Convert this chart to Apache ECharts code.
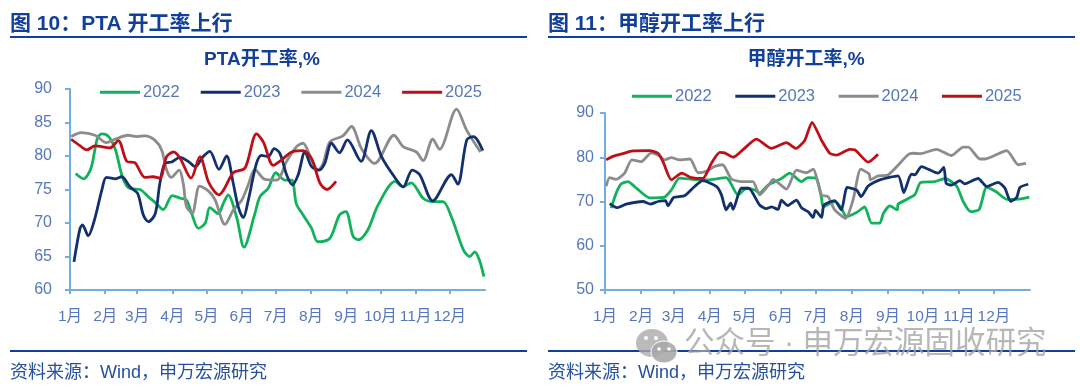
<!DOCTYPE html>
<html><head><meta charset="utf-8">
<style>html,body{margin:0;padding:0;background:#fff}#c{width:1080px;height:389px}</style>
<script src="https://cdn.jsdelivr.net/npm/echarts@6/dist/echarts.min.js"></script>
</head><body><div id="c"></div>
<script>
const monthStarts=[0,31,59,90,120,151,181,212,243,273,304,334];
const monthLabels=['1月','2月','3月','4月','5月','6月','7月','8月','9月','10月','11月','12月'];
const seriesNames=['2022','2023','2024','2025'];
const pta2022=[[5,77.4],[12,76.6],[18.5,78.2],[24,82.6],[28,83.3],[34,82.9],[40,80.9],[45.5,77.2],[50,75.5],[54,75.1],[61.5,75],[69,73.9],[76,72.9],[82,72],[90,74.1],[97,73.7],[102.5,73.4],[107,71.4],[113,69.2],[119,70],[123,72.3],[130.4,71.4],[134.8,72.9],[139,74.2],[146.5,70.9],[153,66.4],[162.6,71.4],[167,73.9],[174.4,75.2],[181,77.5],[189,76.4],[195,76.4],[199,72.9],[205,71.2],[212.5,69.2],[218,67.2],[228.5,67.7],[237,71.2],[242.6,71.7],[249,68],[253.5,67.5],[262,69],[271,72.7],[286,76.2],[293,75.4],[300,76],[310.6,73.7],[319,73.2],[328,73.2],[335.5,70.9],[346,66],[351.6,65],[356,65.7],[360,64.5],[364,62]];
const pta2023=[[3.5,64.2],[8.8,69.2],[11,69.7],[16,68.1],[21.4,70.4],[28,74.9],[32,76.8],[39.5,76.6],[45.4,76.9],[52.7,75.4],[59.5,74.4],[64.5,71.2],[69,70.2],[75,71.4],[79,75.9],[83.5,78.9],[89.4,79.1],[96.7,79.8],[104,79.2],[110,78.4],[117,79.9],[123,80.7],[131,78],[137.7,80],[143.6,75.9],[148,72.4],[152.4,70.8],[156.8,73.4],[164,78.9],[168.5,80.1],[174.4,79.9],[179.6,81.1],[184.6,80.4],[190.5,77.2],[195.5,75.7],[200.7,77.2],[206.6,80.6],[212.5,78.4],[219,77.9],[224,78.9],[230,81.9],[237,80.5],[244,82.4],[256,79.2],[265,83.8],[274,79.9],[284,77.2],[293,75.4],[301,77.9],[307.6,77.2],[319,73.3],[335.5,77.2],[341,75.8],[349,82.4],[355,82.9],[363,80.8]];
const pta2024=[[1,82.9],[10,83.5],[22,83.1],[32,82],[39.5,82.5],[51,83.1],[58.6,82.9],[66,83],[75,82.3],[80.6,80.9],[85,77.9],[89,76.8],[96,77.9],[99.6,75.9],[102.5,72.4],[107.5,71.5],[114,75.5],[121.6,74.8],[127.5,73.5],[136.3,69.8],[143.6,71.9],[151,73.4],[156.8,75.7],[162.6,78],[171.4,76.5],[181.7,76.4],[190.5,79.2],[199.3,81.4],[205,81.9],[212.5,79.4],[218.3,77.9],[222.7,78.9],[228.6,82.1],[240,83],[247.6,84.4],[256.4,81.1],[268,78.9],[285,83.1],[293,81.4],[304.7,80.6],[310.6,79.3],[319,82.5],[325,81],[340,87],[348.7,83.9],[361,80.6]];
const pta2025=[[1,82.5],[9,81.5],[14.6,80.9],[22,81.5],[35,81.2],[42.5,82.3],[50,79.2],[57,79],[66,76.8],[73,76.9],[79,76.7],[85,79.9],[91,80.6],[96.7,79.7],[106.4,76.7],[114.3,79.9],[121.6,76.2],[127.5,74.6],[131,74.2],[136,75.2],[143.6,77.5],[153.9,78.2],[164,83.3],[170,82.1],[178.8,78.6],[186,79.4],[195,80.6],[205,80.8],[212.5,79.6],[220,75.9],[226,75],[234,76.2]];
const meth2022=[[5.3,68.5],[9.6,71.9],[14,74],[19.7,74.5],[27,73],[38.3,70.8],[51.2,71],[57,72.6],[64,75.3],[81,74.9],[90,74.9],[104,75.4],[107,74.6],[114.2,71.5],[121.4,73],[128.5,72.6],[132.8,71.9],[140,73.7],[151.5,75.2],[158.6,76.4],[168.7,74.5],[174.4,75.4],[181.6,75.2],[186,70.7],[187.3,68.8],[197.3,70],[203,68.5],[207.3,66.6],[216,67.5],[223,68.8],[229,65.1],[236,65.1],[239,67.3],[244.6,69],[251,68.1],[251.7,69.4],[266,71.5],[271,74.3],[283,74.5],[292,75.2],[302,73.5],[307.6,70],[314,67.7],[321.4,68.2],[327.7,73.2],[336,72.2],[345,70.5],[353.5,70.5],[364.4,71]];
const meth2023=[[4,69.5],[10.2,68.6],[18.2,69.4],[32.6,70],[38.9,69.4],[45.5,70],[52,70.2],[54,69],[59,70.9],[68.4,71.3],[77,73.4],[84,74.7],[95.6,73.4],[100,71.5],[104,68.1],[108,69.6],[110,68.2],[117,73],[123.4,73],[132.8,69.2],[138.6,68.4],[143,68.8],[148.6,68.2],[151.5,70.3],[157,69.1],[164.4,70.3],[168.7,68.6],[174.4,67.7],[178.7,66.4],[180.7,68],[186,66.4],[188,69.2],[197.3,70.2],[203,68.1],[208,73.2],[216,72.6],[220,71.1],[226,73.5],[236,74.9],[251.7,75.8],[256.6,72],[263,76.2],[266,76],[271.8,77.9],[286,76.4],[291,77.7],[293,74.1],[297.6,73.7],[304.8,74.7],[309,74],[320.5,75.2],[327.7,73.4],[337.7,74.3],[343.5,73],[348.4,70],[353.5,70.9],[356.4,73.2],[363.5,73.9]];
const meth2024=[[1,73.5],[4,75.4],[9.6,75],[16.8,76.4],[23,79.4],[31,79],[39.7,81],[47,80.3],[51,79.4],[57,79.9],[64,79.4],[73,79.6],[80,76.5],[87,76.8],[94,77.9],[101,78.3],[108.5,75.1],[117,74.5],[127,74.5],[132.8,71.5],[141.4,74],[144.3,75],[155.8,72.8],[164.4,77.1],[173,76.5],[178.7,77.3],[186,71.5],[191.6,71.1],[197.3,68.1],[206.7,66.2],[213,70.3],[219.6,77.3],[226.8,76.2],[228,74.9],[234.5,75.8],[243,76],[260,80.5],[264.6,80.9],[270.4,80.8],[284.7,81.8],[297.6,80.4],[307.6,82.3],[312,82.3],[322,79.6],[326.3,79.6],[345,81.5],[355,78.3],[361.5,78.6]];
const meth2025=[[1,79.4],[6.8,80.2],[15.4,80.8],[22.5,81.4],[38.3,81.5],[45.5,80.9],[49.8,79],[57,74.9],[66,76.4],[74,75.4],[84,75.2],[91.3,78.6],[98.5,81.1],[102.75,81],[110,80],[118.5,81.7],[130,84.1],[142.9,82],[155.8,83.3],[163.8,82],[171.5,83.8],[177.8,87.9],[186,83.8],[193,80.9],[198.8,80.5],[210.2,81.8],[214.5,81.7],[226,78.9],[234.5,80.7]];
const lineColors=['#12b15c','#12306f','#8c8c8c','#c00e17'];
const FONT="'Liberation Sans','Noto Sans CJK SC',sans-serif";
const LABEL='#5676bd', AXIS='#72aee2', NAVY='#123f97';
function yAxis(idx,min,max,interval,margin){return{gridIndex:idx,type:'value',min,max,interval,
  splitLine:{show:false},axisLine:{show:true,lineStyle:{color:AXIS,width:2}},
  axisTick:{show:true,length:5,lineStyle:{color:AXIS,width:2}},
  axisLabel:{color:LABEL,fontSize:16,fontFamily:FONT,margin}};}
function xAxis(idx){return{gridIndex:idx,type:'value',min:0,max:365,
  splitLine:{show:false},axisLine:{show:true,lineStyle:{color:AXIS,width:2}},
  axisTick:{show:true,length:4,customValues:monthStarts,lineStyle:{color:AXIS,width:2}},
  axisLabel:{color:LABEL,fontSize:15.5,fontFamily:FONT,margin:19,customValues:monthStarts,hideOverlap:false,
    formatter:v=>monthLabels[monthStarts.indexOf(v)]||''}};}
function lines(arrs,idx,smooth){return arrs.map((d,i)=>({name:seriesNames[i],type:'line',xAxisIndex:idx,yAxisIndex:idx,data:d,
  symbol:'none',smooth,lineStyle:{color:lineColors[i],width:2.8},itemStyle:{color:lineColors[i]},z:[2,3,2,4][i]}));}
function legend(left,top,gap){return{left,top,itemWidth:40,itemHeight:3,itemGap:gap,icon:'rect',
  data:seriesNames,textStyle:{color:LABEL,fontSize:16.5,fontFamily:FONT,padding:[0,0,0,-2]},selectedMode:false};}
function txt(x,y,text,size,weight,color,align){return{type:'text',x,y,silent:true,z:10,style:{text,fontSize:size,fontWeight:weight,fontFamily:FONT,fill:color,align:align||'left',verticalAlign:'middle'}};}
function rule(x1,x2,y){return{type:'line',silent:true,z:9,shape:{x1,y1:y,x2,y2:y},style:{stroke:NAVY,lineWidth:2}};}
const chart=echarts.init(document.getElementById('c'),null,{renderer:'canvas'});
chart.setOption({animation:false,backgroundColor:'#fff',
 grid:[{left:70,width:415,top:89,height:201},{left:605,width:425,top:113,height:177}],
 xAxis:[xAxis(0),xAxis(1)],
 yAxis:[yAxis(0,60,90,5,18),yAxis(1,50,90,10,11)],
 legend:[legend(95,79,21),legend(627,83,23.6)],
 series:[...lines([pta2022,pta2023,pta2024,pta2025],0,0.3),...lines([meth2022,meth2023,meth2024,meth2025],1,0.2)],
 graphic:[
  txt(10,24,'图 10：PTA 开工率上行',21,'bold',NAVY),
  txt(548,24,'图 11：甲醇开工率上行',21,'bold',NAVY),
  rule(10,527,37),rule(548,1075,37),
  txt(262,60,'PTA开工率,%',19,'bold',NAVY,'center'),
  txt(806,60,'甲醇开工率,%',19,'bold',NAVY,'center'),
  rule(10,527,351),rule(548,1075,351),
  txt(10,373,'资料来源：Wind，申万宏源研究',18,'normal','#25509f'),
  txt(548,373,'资料来源：Wind，申万宏源研究',18,'normal','#25509f'),
  {type:'ellipse',silent:true,z:11,shape:{cx:652,cy:343,rx:16,ry:14},style:{fill:'rgba(170,170,170,0.8)'}},
  {type:'ellipse',silent:true,z:12,shape:{cx:664,cy:352,rx:13,ry:11},style:{fill:'rgba(170,170,170,0.9)',stroke:'#fff',lineWidth:1}},
  {type:'circle',silent:true,z:13,shape:{cx:646,cy:338,r:2},style:{fill:'#fff'}},
  {type:'circle',silent:true,z:13,shape:{cx:656,cy:338,r:2},style:{fill:'#fff'}},
  {type:'circle',silent:true,z:13,shape:{cx:659,cy:349,r:1.8},style:{fill:'#fff'}},
  {type:'circle',silent:true,z:13,shape:{cx:669,cy:349,r:1.8},style:{fill:'#fff'}},
  txt(684,345,'公众号 · 申万宏源固收研究',30.5,'normal','rgba(165,165,165,0.8)')
 ]
});
</script></body></html>
